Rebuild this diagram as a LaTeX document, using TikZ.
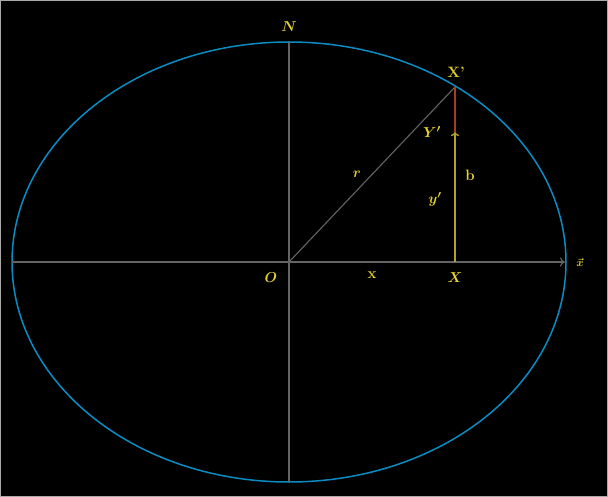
\documentclass[tikz,border=0pt]{standalone}
\usetikzlibrary{arrows.meta}
\definecolor{ellblue}{RGB}{10,140,195}
\definecolor{axgray}{RGB}{100,100,100}
\definecolor{lblyellow}{RGB}{230,210,45}
\definecolor{lineyellow}{RGB}{180,160,45}
\definecolor{linered}{RGB}{170,60,30}
\definecolor{framegray}{RGB}{170,170,170}
\tikzset{
  lbl/.style={text=lblyellow, inner sep=0pt, font=\fontsize{15}{17}\selectfont\bfseries\boldmath},
  axis/.style={draw=axgray, line width=1.1pt},
}
\begin{document}
\begin{tikzpicture}[x=1pt,y=-1pt]
\fill[black] (0,0) rectangle (608,497);
\useasboundingbox (0,0) rectangle (608,497);
\draw[framegray, line width=1pt] (0.5,0.5) rectangle (607.5,496.5);
% coordinates
\coordinate (O) at (289,262);
\coordinate (L) at (12,262);
\coordinate (R) at (565,262);
\coordinate (T) at (289,42);
\coordinate (B) at (289,482);
\coordinate (X) at (455,262);
\coordinate (Yp) at (455,132);
\coordinate (Xp) at (455,87);
% ellipse
\draw[ellblue, line width=1.5pt] (O) ellipse [x radius=277, y radius=220];
% axes
\draw[axis, -{To[length=5pt,width=9pt]}] (L) -- (R);
\draw[axis] (T) -- (B);
% radius
\draw[axis] (O) -- (Xp);
% vertical segments
\draw[linered, line width=1.3pt] (Yp) -- (Xp);
\draw[lineyellow, line width=1.3pt, -{To[length=4pt,width=8pt]}] (X) -- (Yp);
% labels
\node[lbl] (lN) at (289,27) {$N$};
\node[lbl] (lXp) at (456,72) {X'};
\node[lbl] (lYp) at (432,132) {$Y'$};
\node[lbl] (lb) at (470,175) {b};
\node[lbl] (lyp) at (435,199) {$y'$};
\node[lbl] (lr) at (357,174) {$r$};
\node[lbl] (lO) at (271,278) {$O$};
\node[lbl] (lx) at (372,275) {x};
\node[lbl] (lX) at (455,278) {$X$};
\node[lbl, font=\fontsize{11}{12}\selectfont\boldmath] (lvx) at (580,263) {$\vec{x}$};
\end{tikzpicture}
\end{document}
